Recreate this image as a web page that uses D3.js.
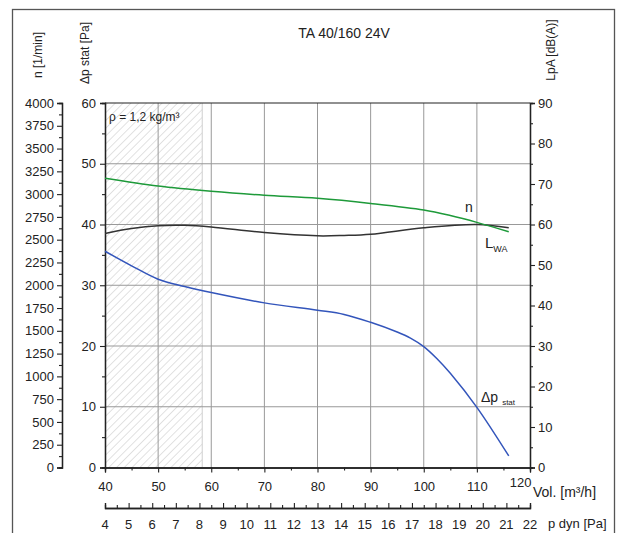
<!DOCTYPE html>
<html>
<head>
<meta charset="utf-8">
<script src="https://cdn.jsdelivr.net/npm/d3@7"></script>
<style>
  body { margin: 0; background: #fff; }
  svg { font-family: "Liberation Sans", Arial, sans-serif; }
</style>
</head>
<body>
<div id="chart"></div>
<script>
// DATA
const title = "TA 40/160 24V";

const volN = [40, 50, 60, 70, 80, 90, 100, 105, 110, 116];
const nValues = [3174, 3089, 3031, 2987, 2954, 2898, 2826, 2765, 2690, 2587];

const volL = [40, 45, 50, 55, 60, 70, 80, 85, 90, 100, 110, 116];
const lwaValues = [57.8, 59.0, 59.7, 59.8, 59.4, 58.0, 57.2, 57.3, 57.6, 59.2, 60.0, 59.2];

const volP = [40, 45, 50, 55, 60, 70, 80, 85, 90, 95, 97.5, 100, 102.5, 105, 110, 116];
const dpValues = [35.6, 33.2, 31.0, 29.8, 28.8, 27.1, 25.9, 25.2, 23.9, 22.3, 21.3, 19.9, 17.9, 15.5, 9.9, 1.9];

const hatchRange = [40, 58.3];   // grey hatched zone (m³/h)

const volTicks = d3.range(40, 121, 10);
const dpTicks = d3.range(0, 61, 10);
const nTicks = d3.range(0, 4001, 250);
const lpaTicks = d3.range(0, 91, 10);
const pdynTicks = d3.range(4, 23, 1);

// LAYOUT
const W = 618, H = 533;
const plotLeft = 105, plotRight = 530, plotTop = 103, plotBottom = 467.5;

const svg = d3.select("#chart").append("svg")
    .attr("width", W)
    .attr("height", H);

// scales
const x = d3.scaleLinear().domain([40, 120]).range([plotLeft, plotRight]);
const yDp = d3.scaleLinear().domain([0, 60]).range([plotBottom, plotTop]);
const yN = d3.scaleLinear().domain([0, 4000]).range([plotBottom, plotTop]);
const yL = d3.scaleLinear().domain([0, 90]).range([plotBottom, plotTop]);
const xDyn = d3.scaleLinear().domain([4, 22]).range([plotLeft, plotRight]);

// outer frame
svg.append("rect")
    .attr("x", 12.5).attr("y", 9.5)
    .attr("width", 602).attr("height", 540)
    .attr("fill", "none")
    .attr("stroke", "#555")
    .attr("stroke-width", 1.3);

// hatch pattern
const defs = svg.append("defs");
const pat = defs.append("pattern")
    .attr("id", "hatch")
    .attr("patternUnits", "userSpaceOnUse")
    .attr("width", 5.5).attr("height", 5.5)
    .attr("patternTransform", "rotate(45)");
pat.append("line")
    .attr("x1", 0).attr("y1", 0).attr("x2", 0).attr("y2", 5.5)
    .attr("stroke", "#bdbdbd")
    .attr("stroke-width", 0.9);

svg.append("rect")
    .attr("x", x(hatchRange[0]))
    .attr("y", plotTop)
    .attr("width", x(hatchRange[1]) - x(hatchRange[0]))
    .attr("height", plotBottom - plotTop)
    .attr("fill", "url(#hatch)");
svg.append("line")
    .attr("x1", x(hatchRange[1])).attr("x2", x(hatchRange[1]))
    .attr("y1", plotTop).attr("y2", plotBottom)
    .attr("stroke", "#cfcfcf")
    .attr("stroke-width", 1);

// GRID
svg.append("g")
    .selectAll("line")
    .data(volTicks.filter(d => d > 40 && d < 120))
    .join("line")
    .attr("x1", d => x(d)).attr("x2", d => x(d))
    .attr("y1", plotTop).attr("y2", plotBottom)
    .attr("stroke", "#999")
    .attr("stroke-width", 1);

svg.append("g")
    .selectAll("line")
    .data(dpTicks.filter(d => d > 0 && d < 60))
    .join("line")
    .attr("x1", plotLeft).attr("x2", plotRight)
    .attr("y1", d => yDp(d)).attr("y2", d => yDp(d))
    .attr("stroke", "#999")
    .attr("stroke-width", 1);

// top frame line
svg.append("line")
    .attr("x1", plotLeft).attr("x2", plotRight)
    .attr("y1", plotTop).attr("y2", plotTop)
    .attr("stroke", "#222")
    .attr("stroke-width", 1.2);

// AXES
function styleAxis(g) {
    g.selectAll("path.domain").attr("stroke", "#222").attr("stroke-width", 1.3);
    g.selectAll(".tick line").attr("stroke", "#222").attr("stroke-width", 1.1);
    g.selectAll(".tick text")
        .attr("fill", "#222")
        .attr("font-size", "13px")
        .attr("font-family", "Liberation Sans, Arial, sans-serif");
}

function minorAxis(axis, scale, values) {
    return axis(scale).tickValues(values).tickSize(3).tickFormat("");
}

// bottom: volume
const gx = svg.append("g").attr("transform", `translate(0,${plotBottom})`);
gx.call(minorAxis(d3.axisBottom, x, d3.range(45, 120, 10)));
gx.append("g").call(d3.axisBottom(x).tickValues(volTicks).tickSize(5).tickPadding(9));
styleAxis(gx);
gx.selectAll(".tick text").filter(d => d === 120)
    .attr("text-anchor", "end")
    .attr("dx", 1)
    .attr("dy", "0.45em");

svg.append("text")
    .attr("x", 533).attr("y", 497)
    .attr("font-size", "14px")
    .attr("fill", "#222")
    .text("Vol. [m³/h]");

// left: static pressure
const gdp = svg.append("g").attr("transform", `translate(${plotLeft},0)`);
gdp.call(minorAxis(d3.axisLeft, yDp, d3.range(5, 60, 10)));
gdp.append("g").call(d3.axisLeft(yDp).tickValues(dpTicks).tickSize(5).tickPadding(4));
styleAxis(gdp);

// far left: speed
const gn = svg.append("g").attr("transform", `translate(62,0)`);
gn.call(minorAxis(d3.axisLeft, yN, d3.range(125, 4000, 250)));
gn.append("g").call(d3.axisLeft(yN).tickValues(nTicks).tickFormat(d3.format("d")).tickSize(5).tickPadding(3));
styleAxis(gn);

// right: LpA
const gl = svg.append("g").attr("transform", `translate(${plotRight},0)`);
gl.call(minorAxis(d3.axisRight, yL, d3.range(5, 90, 10)));
gl.append("g").call(d3.axisRight(yL).tickValues(lpaTicks).tickSize(5).tickPadding(3));
styleAxis(gl);

// p dyn axis
const gd = svg.append("g").attr("transform", `translate(0,508)`);
gd.call(minorAxis(d3.axisTop, xDyn, d3.range(4.5, 22, 1)));
gd.append("g").call(d3.axisTop(xDyn).tickValues(pdynTicks).tickSize(5).tickFormat(""));
styleAxis(gd);
gd.append("g")
    .selectAll("text")
    .data(pdynTicks)
    .join("text")
    .attr("x", d => xDyn(d))
    .attr("y", 21)
    .attr("text-anchor", "middle")
    .attr("font-size", "13px")
    .attr("fill", "#222")
    .text(d => d);

svg.append("text")
    .attr("x", 548).attr("y", 528)
    .attr("font-size", "13px")
    .attr("fill", "#222")
    .text("p dyn [Pa]");

// TITLES
svg.append("text")
    .attr("x", 344).attr("y", 38)
    .attr("text-anchor", "middle")
    .attr("font-size", "14px")
    .attr("fill", "#222")
    .text(title);

function vTitle(xPos, yPos, label) {
    svg.append("text")
        .attr("transform", `translate(${xPos},${yPos}) rotate(-90)`)
        .attr("text-anchor", "middle")
        .attr("font-size", "12px")
        .attr("fill", "#222")
        .text(label);
}
vTitle(42, 55, "n [1/min]");
vTitle(89, 53, "Δp stat [Pa]");
vTitle(555, 50, "LpA [dB(A)]");

svg.append("text")
    .attr("x", 109).attr("y", 121)
    .attr("font-size", "12px")
    .attr("fill", "#222")
    .text("ρ = 1,2 kg/m³");

// CURVES
const smooth = d3.curveCatmullRom.alpha(0.5);
const lineN = d3.line().x((d, i) => x(volN[i])).y(d => yN(d)).curve(smooth);
const lineL = d3.line().x((d, i) => x(volL[i])).y(d => yL(d)).curve(smooth);
const lineP = d3.line().x((d, i) => x(volP[i])).y(d => yDp(d)).curve(smooth);

svg.append("path")
    .datum(lwaValues)
    .attr("fill", "none")
    .attr("stroke", "#333")
    .attr("stroke-width", 1.5)
    .attr("d", lineL);

svg.append("path")
    .datum(nValues)
    .attr("fill", "none")
    .attr("stroke", "#1e9a3a")
    .attr("stroke-width", 1.5)
    .attr("d", lineN);

svg.append("path")
    .datum(dpValues)
    .attr("fill", "none")
    .attr("stroke", "#3355bb")
    .attr("stroke-width", 1.5)
    .attr("d", lineP);

// curve labels
svg.append("text")
    .attr("x", 465).attr("y", 212)
    .attr("font-size", "14px")
    .attr("fill", "#222")
    .text("n");

const lwa = svg.append("text")
    .attr("x", 485).attr("y", 248)
    .attr("font-size", "15px")
    .attr("fill", "#222");
lwa.append("tspan").text("L");
lwa.append("tspan").attr("font-size", "9px").attr("dy", 4).text("WA");

const dpl = svg.append("text")
    .attr("x", 481).attr("y", 402)
    .attr("font-size", "14px")
    .attr("fill", "#222");
dpl.append("tspan").text("Δp");
dpl.append("tspan").attr("font-size", "8px").attr("dx", 4).attr("dy", 3).text("stat");
</script>
</body>
</html>
